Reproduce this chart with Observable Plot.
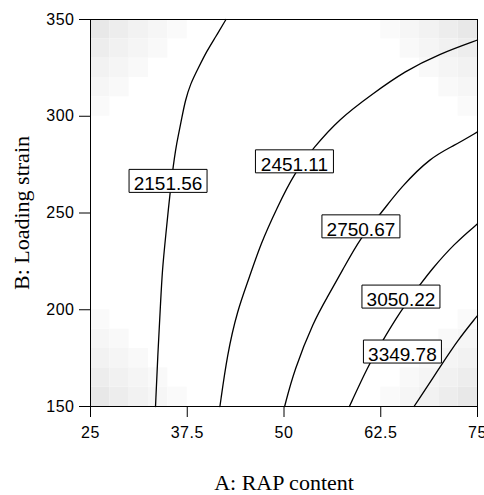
<!DOCTYPE html>
<html><head><meta charset="utf-8">
<script src="https://cdn.jsdelivr.net/npm/d3@7"></script>
<script src="https://cdn.jsdelivr.net/npm/@observablehq/plot@0.6"></script>
<style>
body{margin:0;background:#fff}
g[aria-label="contour-labels"]{letter-spacing:0.9px}
g[aria-label="x-axis tick label"], g[aria-label="y-axis tick label"]{letter-spacing:0.5px}
g[aria-label="x-title"]{letter-spacing:0.4px}
g[aria-label="y-title"]{letter-spacing:0.4px}
</style>
</head><body><div id="chart"></div>
<script>
// ---- data ----
const xTicks = [25, 37.5, 50, 62.5, 75];
const yTicks = [150, 200, 250, 300, 350];
const xTitle = "A: RAP content";
const yTitle = "B: Loading strain";

// contour polylines [A, B] per level
const line2151 = [[42.5,350],[41.12,340.7],[40.04,333.8],[38.96,325.2],[37.89,316.6],[37.24,308.0],[36.81,299.4],[36.38,290.7],[36.03,283.9],[35.43,266.8],[34.70,237.5],[34.27,220.3],[34.05,203.1],[33.70,177.2],[33.40,150]];
const line2451 = [[75,339.4],[70.0,332.1],[65.69,323.5],[61.37,311.4],[57.10,298.5],[53.87,284.0],[51.29,270.3],[49.14,253.0],[46.98,234.1],[45.47,216.0],[43.97,199.6],[42.68,177.2],[41.72,150]];
const line2750 = [[75,291.9],[71.94,284.7],[68.96,278.8],[65.08,263.3],[62.50,249.6],[59.91,237.5],[57.54,220.3],[55.60,206.5],[53.87,194.4],[51.29,168.6],[50.08,150]];
const line3050 = [[75,244.4],[71.98,234.1],[68.96,220.3],[67.67,213.4],[65.08,199.6],[62.50,182.4],[60.82,170.6],[58.45,150]];
const line3349 = [[75,197.0],[72.41,184.1],[70.23,170.8],[66.80,150]];
const contourLevels = ["2151.56","2451.11","2750.67","3050.22","3349.78"];

// label box centres [A, B]
const labelA = [35.02, 51.35, 59.94, 65.11, 65.30];
const labelB = [266.6, 276.7, 243.1, 206.8, 178.4];

// grey shading of the corner cells (grid of 20x20 cells, 2.5 x 10 units), row 0 = at the corner
const cornerShade = [
  [232,237,242,246,250],
  [237,241,245,249,255],
  [242,245,249,255,255],
  [246,249,255,255,255],
  [250,255,255,255,255]
];

// ---- tables ----
const lines = [line2151, line2451, line2750, line3050, line3349];
const contourRows = lines.flatMap((pts, k) => pts.map(([a, b]) => ({level: contourLevels[k], a, b})));
const labels = contourLevels.map((t, k) => ({text: t, a: labelA[k], b: labelB[k]}));

const cellW = 2.5, cellH = 10;
const shadeCells = [];
const corners = [{x0: 25, sx: 1, y0: 350, sy: -1}, {x0: 75, sx: -1, y0: 350, sy: -1},
                 {x0: 25, sx: 1, y0: 150, sy: 1}, {x0: 75, sx: -1, y0: 150, sy: 1}];
for (const c of corners) {
  cornerShade.forEach((row, r) => row.forEach((g, i) => {
    if (g >= 255) return;
    const xa = c.x0 + c.sx * i * cellW, xb = xa + c.sx * cellW;
    const ya = c.y0 + c.sy * r * cellH, yb = ya + c.sy * cellH;
    shadeCells.push({x1: Math.min(xa, xb), x2: Math.max(xa, xb), y1: Math.min(ya, yb), y2: Math.max(ya, yb), g});
  }));
}

const boxSymbol = {draw(ctx) { ctx.rect(-39, -11.5, 78, 23); }};
const serif = "'Liberation Serif', 'Times New Roman', serif";

const chart = Plot.plot({
  width: 484, height: 495,
  marginLeft: 90, marginRight: 7, marginTop: 19, marginBottom: 89,
  x: {domain: [25, 75]},
  y: {domain: [150, 350]},
  style: {fontFamily: "Arial, 'Liberation Sans', sans-serif", fontSize: "16px", color: "black", background: "white"},
  marks: [
    Plot.rect(shadeCells, {x1: "x1", x2: "x2", y1: "y1", y2: "y2", fill: d => `rgb(${d.g},${d.g},${d.g})`}),
    Plot.line(contourRows, {x: "a", y: "b", z: "level", stroke: "black", strokeWidth: 1.3, curve: "basis"}),
    Plot.dot(labels, {x: "a", y: "b", symbol: boxSymbol, fill: "white", stroke: "black", strokeWidth: 1}),
    Plot.text(labels, {x: "a", y: "b", text: "text", fontSize: 19, dy: 3.5, fill: "black", ariaLabel: "contour-labels"}),
    Plot.axisX({ticks: xTicks, tickSize: 11, tickPadding: 9, label: null, tickFormat: d => String(d)}),
    Plot.axisY({ticks: yTicks, tickSize: 11, tickPadding: 5, label: null, tickFormat: d => String(d)}),
    Plot.frame({stroke: "black"}),
    Plot.text([xTitle], {frameAnchor: "bottom", textAnchor: "middle", lineAnchor: "middle", dy: 76.5, fontSize: 22, fontFamily: serif, fill: "black", ariaLabel: "x-title"}),
    Plot.text([yTitle], {frameAnchor: "left", textAnchor: "middle", lineAnchor: "middle", dx: -68.7, rotate: -90, fontSize: 22, fontFamily: serif, fill: "black", ariaLabel: "y-title"})
  ]
});
document.getElementById("chart").appendChild(chart);
</script>
</body></html>
